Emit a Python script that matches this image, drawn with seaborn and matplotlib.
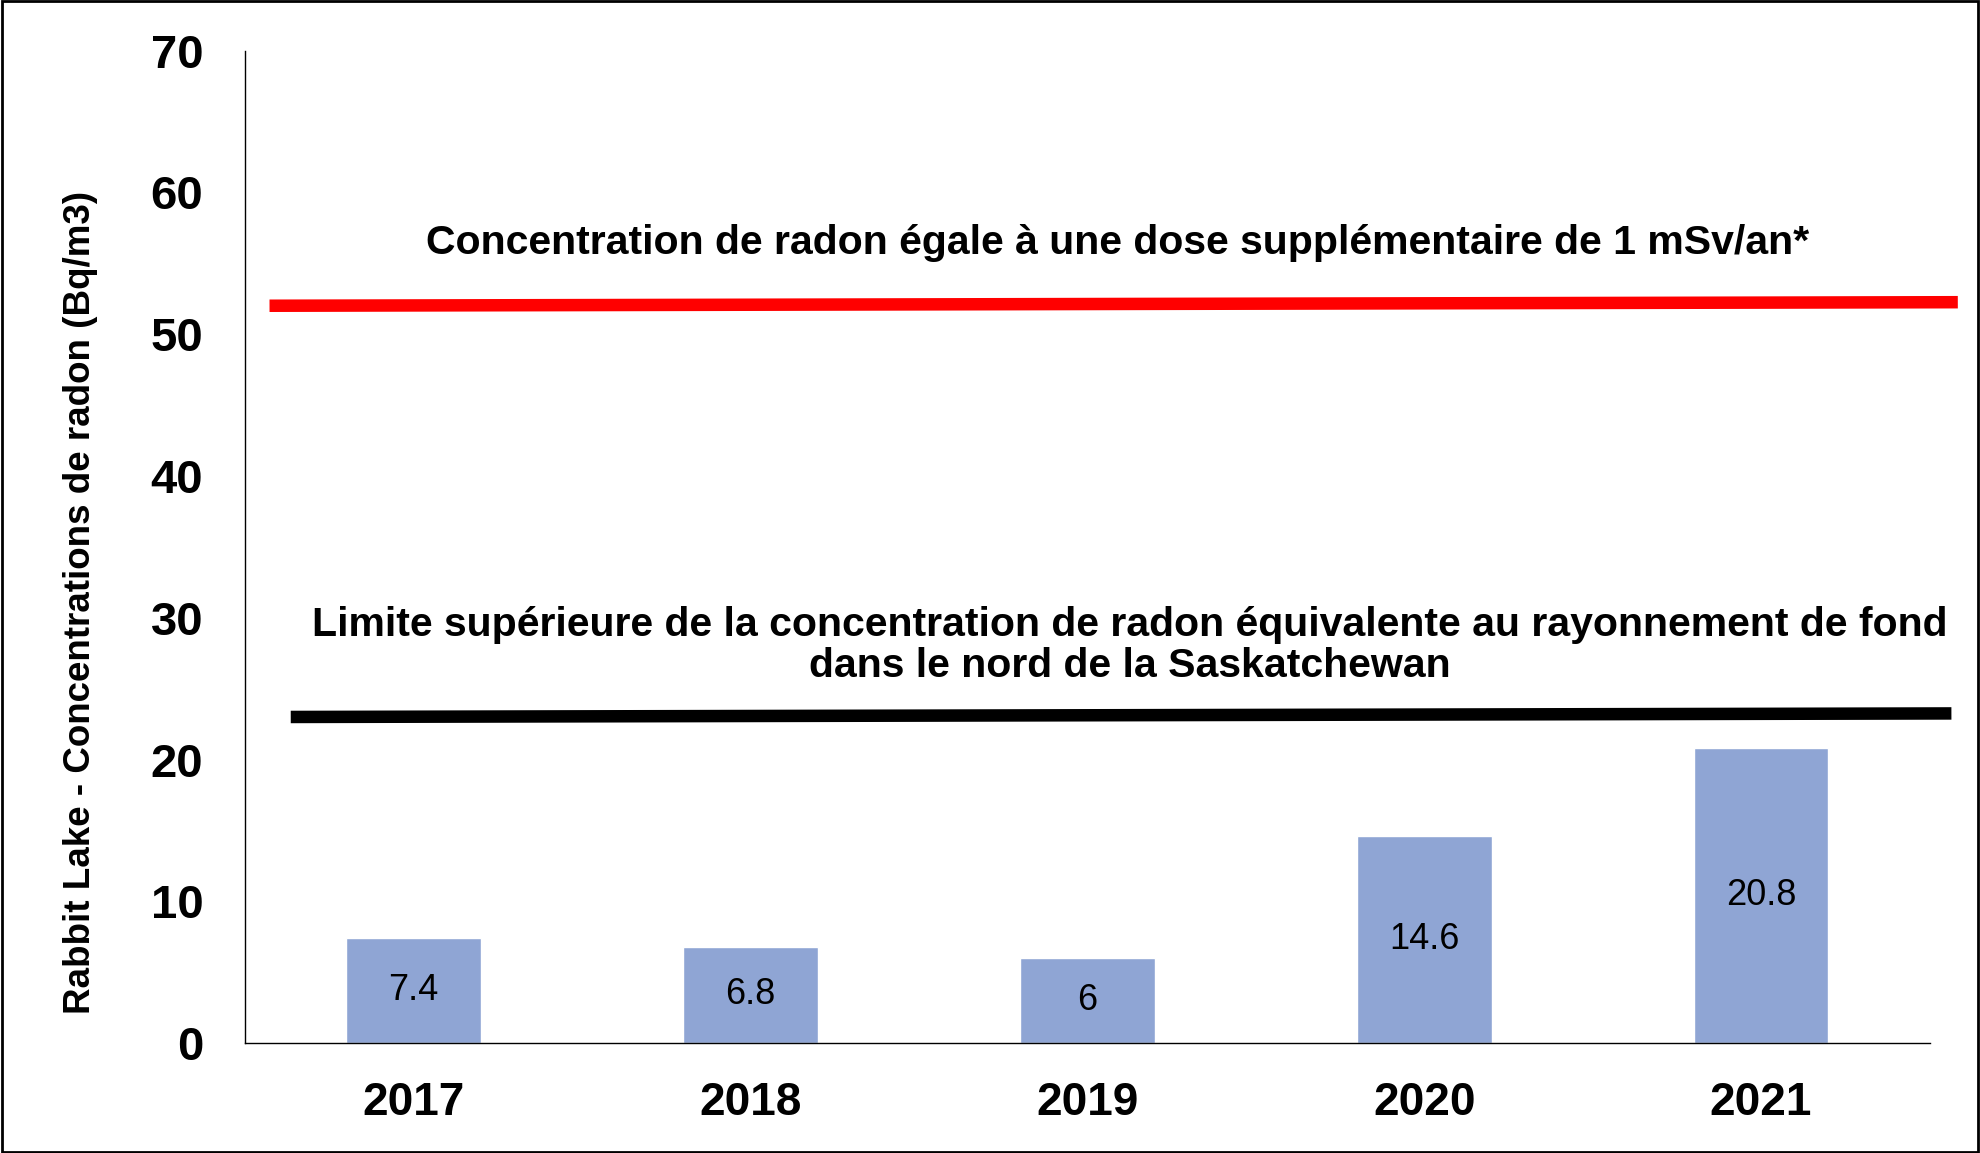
import matplotlib
matplotlib.use('Agg')
import matplotlib.pyplot as plt
import seaborn as sns
import pandas as pd

# données
years = ['2017', '2018', '2019', '2020', '2021']
radon = [7.4, 6.8, 6, 14.6, 20.8]
dose_limit = 52      # 1 mSv/an
background_max = 23  # limite supérieure du fond naturel

label_dose = 'Concentration de radon égale à une dose supplémentaire de 1 mSv/an*'
label_fond = ('Limite supérieure de la concentration de radon équivalente au rayonnement de fond\n'
              'dans le nord de la Saskatchewan')
ylabel = 'Rabbit Lake - Concentrations de radon (Bq/m3)'

sns.set_style('white')
plt.rcParams['font.family'] = ['Liberation Sans', 'DejaVu Sans']
plt.rcParams['text.color'] = 'black'
plt.rcParams['axes.labelcolor'] = 'black'
plt.rcParams['xtick.color'] = 'black'
plt.rcParams['ytick.color'] = 'black'

df = pd.DataFrame({'annee': years, 'radon': radon})

fig = plt.figure(figsize=(19.8, 11.53), dpi=100)
ax = fig.add_axes([0.1237, 0.0953, 0.8508, 0.8609])

sns.barplot(data=df, x='annee', y='radon', color='#8FA5D4', saturation=1,
            width=0.4, ax=ax)

# valeurs au centre des barres
for i, v in enumerate(radon):
    ax.text(i, v / 2, f'{v:g}', ha='center', va='center', fontsize=26, color='black')

# lignes de référence
ax.plot([-0.427, 4.584], [dose_limit, dose_limit + 0.25], color='#FF0000', lw=9,
        solid_capstyle='butt', clip_on=False)
ax.plot([-0.364, 4.565], [background_max, background_max + 0.25], color='black', lw=9,
        solid_capstyle='butt', clip_on=False)

ax.text(2.09, 56.45, label_dose, ha='center', va='center', fontsize=29.5, fontweight='bold')
ax.text(2.125, 28.05, label_fond, ha='center', va='center', fontsize=29.5,
        fontweight='bold', linespacing=1.1)

ax.set_xlim(-0.5, 4.5)
ax.set_ylim(0, 70)
ax.set_yticks(range(0, 71, 10))
ax.set_xlabel('')
ax.set_ylabel(ylabel, fontsize=26.5, fontweight='bold')
ax.yaxis.set_label_coords(-0.087, 0.444)

ax.tick_params(axis='y', length=0, pad=30, labelsize=34)
ax.tick_params(axis='x', length=0, pad=27, labelsize=33)
for lab in ax.get_xticklabels() + ax.get_yticklabels():
    lab.set_fontweight('bold')

sns.despine(ax=ax)
for s in ['left', 'bottom']:
    ax.spines[s].set_color('black')
    ax.spines[s].set_linewidth(1)

# cadre autour de la figure
fig.patches.append(plt.Rectangle((0.001, 0.001), 0.998, 0.998, transform=fig.transFigure,
                                 fill=False, edgecolor='black', lw=2))

fig.savefig('out.png', dpi=100)
